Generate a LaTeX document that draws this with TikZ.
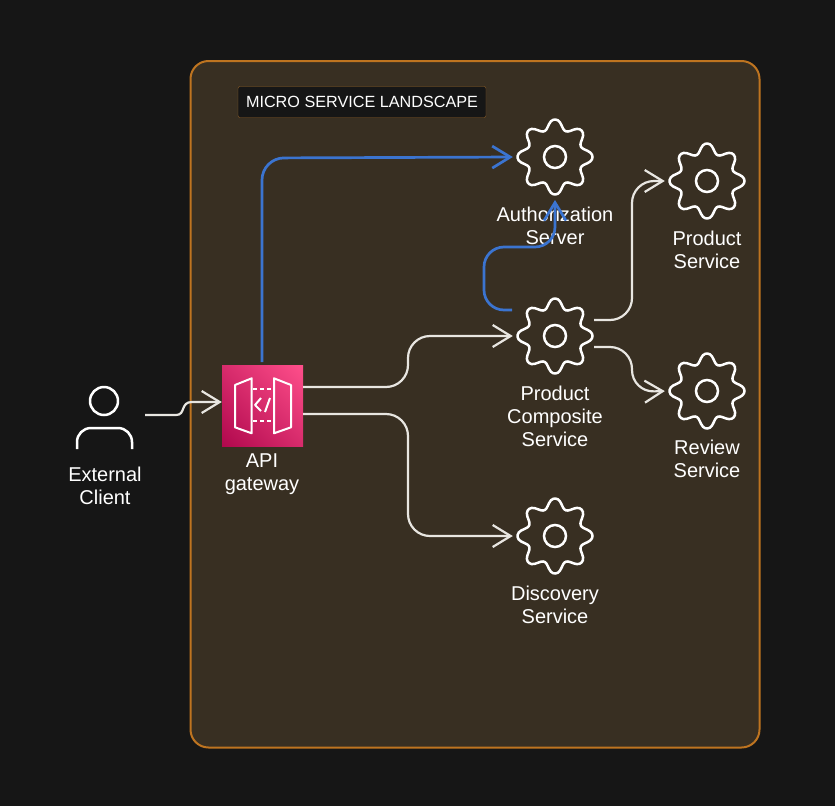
\documentclass[tikz,border=0pt]{standalone}
\usepackage{fontspec}
\setmainfont{Liberation Sans}
\definecolor{pagebg}{HTML}{161616}
\definecolor{panelbg}{HTML}{382F22}
\definecolor{panelline}{HTML}{BE7420}
\definecolor{titleline}{HTML}{8F5F28}
\definecolor{linkblue}{HTML}{3B74D0}
\definecolor{linkwhite}{HTML}{E8E6E1}
\definecolor{gwlow}{HTML}{B0084D}
\definecolor{gwhigh}{HTML}{FF4F8B}
\usetikzlibrary{arrows.meta, calc, positioning, shadings}
\tikzset{
	gearnode/.style={circle, minimum size=78pt, inner sep=0pt},
	lbl/.style={text=white, align=center, font=\fontsize{20}{23}\selectfont, inner sep=0pt},
	link/.style={linkwhite, line width=2.2pt, rounded corners=22pt, shorten >=3pt, -{Straight Barb[length=18pt,width=22pt]}},
	authlink/.style={link, linkblue, line width=2.7pt},
	icon/.style={white, line width=2pt, line join=round},
	gear/.pic={
		\draw[white, line width=2.5pt] plot[smooth cycle, samples=97, domain=0:356.25] (\x:{32.7pt+5pt*(cos(8*\x)-0.04*cos(24*\x))});
		\draw[white, line width=2.5pt] (0,0) circle (11pt);
	}
}
\begin{document}
\begin{tikzpicture}[x=1pt, y=-1pt]
	\useasboundingbox (0,0) rectangle (835,806);
	\fill[pagebg] (0,0) rectangle (835,806);

	% landscape panel
	\draw[panelline, fill=panelbg, line width=2pt, rounded corners=18pt] (190.5,61) rectangle (759.5,747.5);
	\node[draw=titleline, fill=pagebg, rounded corners=2pt, text=white, font=\fontsize{16.2}{18}\selectfont, minimum width=248pt, minimum height=31pt, inner sep=0pt] (title) at (362,102) {MICRO SERVICE LANDSCAPE};

	% services
	\node[gearnode] (authgear) at (555,157) {};
	\node[gearnode] (compgear) at (555,336) {};
	\node[gearnode] (discgear) at (555,536) {};
	\node[gearnode] (prodgear) at (707,181) {};
	\node[gearnode] (revgear) at (707,391) {};
	\foreach \n in {authgear, compgear, discgear, prodgear, revgear}
		\pic at (\n) {gear};

	\node[lbl] (authlbl) at (555,226) {Authorization\\Server};
	\node[lbl] (complbl) at (555,416) {Product\\Composite\\Service};
	\node[lbl] (disclbl) at (555,605) {Discovery\\Service};
	\node[lbl] (prodlbl) at (707,250) {Product\\Service};
	\node[lbl] (revlbl) at (707,459) {Review\\Service};

	% gateway
	\node[minimum size=81pt, inner sep=0pt, lower left=gwlow, upper right=gwhigh, upper left=gwlow!50!gwhigh, lower right=gwlow!50!gwhigh] (apigw) at (262.5,405.5) {};
	\draw[icon] (235,385) -- (251.7,378.3) -- (251.7,433.3) -- (235,427.3) -- cycle;
	\draw[icon] (274,378.3) -- (291,385) -- (291,427.3) -- (274,433.3) -- cycle;
	\draw[icon, dash pattern=on 4pt off 3pt] (253,389) -- (273,389);
	\draw[icon, dash pattern=on 4pt off 3pt] (253,421) -- (273,421);
	\draw[icon] (261,398) -- (255,405) -- (261,411);
	\draw[icon] (270,398) -- (265,412);
	\node[lbl] (apilbl) at (262,474) {API\\gateway};

	% client
	\node[minimum width=60pt, minimum height=60pt, inner sep=0pt] (client) at (104,418) {};
	\draw[icon, line width=2.5pt] (104,401) circle (14pt);
	\draw[icon, line width=2.5pt, rounded corners=14pt] (77,449) -- (77,428) -- (132,428) -- (132,449);
	\node[lbl] (clientlbl) at (105,486) {External\\Client};

	% links
	\coordinate (clientout) at (145,415);
	\coordinate (compin) at (512,310);
	\draw[link, rounded corners=0pt, shorten >=0pt] (clientout) -- (176,415) .. controls (186,415) and (180,402) .. (192,402) -- ($(apigw.west)+(0,-3.5)$);
	\draw[authlink] (262,362) -- (262,158) -- (authgear.west);
	\draw[authlink, rounded corners=20pt, shorten >=0pt] (compin) -- (484,310) -- (484,247) -- (555,247) -- (555,200);
	\draw[link] (303,387) -- (408,387) -- (408,336) -- (compgear.west);
	\draw[link] (303,414) -- (408,414) -- (408,536) -- (discgear.west);
	\draw[link] ([yshift=16pt]compgear.east) -- (632,320) -- (632,181) -- (prodgear.west);
	\draw[link] ([yshift=-11pt]compgear.east) -- (632,347) -- (632,392) -- (revgear.west);
\end{tikzpicture}
\end{document}
